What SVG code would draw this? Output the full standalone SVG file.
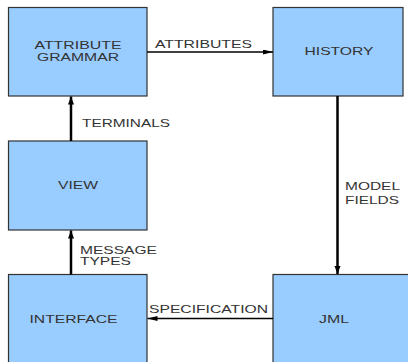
<svg xmlns="http://www.w3.org/2000/svg" width="408" height="362" viewBox="0 0 408 362">
  <style>
    .box { fill: #99ccff; stroke: #333333; stroke-width: 1.2; }
    .t { font-family: "Liberation Sans", Arial, sans-serif; font-size: 11px; fill: #333333; }
    .c { text-anchor: middle; }
    .edge { stroke: #000000; fill: none; }
    .v { stroke-width: 2.5; }
    .h { stroke-width: 1.6; }
  </style>
  <defs>
    <marker id="headV" markerUnits="userSpaceOnUse" markerWidth="10" markerHeight="10" refX="8" refY="3" orient="auto">
      <path d="M0,0 L8,3 L0,6 Z" fill="#000000"/>
    </marker>
    <marker id="headH" markerUnits="userSpaceOnUse" markerWidth="12" markerHeight="10" refX="10" refY="2.5" orient="auto">
      <path d="M0,0 L10,2.5 L0,5 Z" fill="#000000"/>
    </marker>
  </defs>

  <g id="attribute-grammar">
    <rect class="box" x="8.5" y="7.5" width="138.5" height="88.5"/>
    <text class="t c" x="78" y="49" textLength="87" lengthAdjust="spacingAndGlyphs">ATTRIBUTE</text>
    <text class="t c" x="78" y="61" textLength="82" lengthAdjust="spacingAndGlyphs">GRAMMAR</text>
  </g>

  <g id="history">
    <rect class="box" x="273" y="7.5" width="130" height="88.5"/>
    <text class="t c" x="339" y="55" textLength="69" lengthAdjust="spacingAndGlyphs">HISTORY</text>
  </g>

  <g id="view">
    <rect class="box" x="8.5" y="141" width="138.5" height="89"/>
    <text class="t c" x="78" y="189" textLength="40" lengthAdjust="spacingAndGlyphs">VIEW</text>
  </g>

  <g id="interface">
    <rect class="box" x="8.5" y="274.5" width="138.5" height="95"/>
    <text class="t c" x="73.5" y="323" textLength="88" lengthAdjust="spacingAndGlyphs">INTERFACE</text>
  </g>

  <g id="jml">
    <rect class="box" x="273" y="274.5" width="145" height="95"/>
    <text class="t c" x="334" y="323" textLength="30" lengthAdjust="spacingAndGlyphs">JML</text>
  </g>

  <g id="connectors">
    <line class="edge h" x1="147" y1="52" x2="273" y2="52" marker-end="url(#headH)"/>
    <text class="t" x="155" y="48" textLength="97" lengthAdjust="spacingAndGlyphs">ATTRIBUTES</text>

    <line class="edge v" x1="71" y1="141" x2="71" y2="96.5" marker-end="url(#headV)"/>
    <text class="t" x="82" y="127" textLength="88" lengthAdjust="spacingAndGlyphs">TERMINALS</text>

    <line class="edge v" x1="71" y1="274.5" x2="71" y2="230.5" marker-end="url(#headV)"/>
    <text class="t" x="80" y="254" textLength="77" lengthAdjust="spacingAndGlyphs">MESSAGE</text>
    <text class="t" x="80" y="265" textLength="51" lengthAdjust="spacingAndGlyphs">TYPES</text>

    <line class="edge v" x1="337.5" y1="96" x2="337.5" y2="274" marker-end="url(#headV)"/>
    <text class="t" x="345" y="190" textLength="55" lengthAdjust="spacingAndGlyphs">MODEL</text>
    <text class="t" x="345" y="204" textLength="54" lengthAdjust="spacingAndGlyphs">FIELDS</text>

    <line class="edge h" x1="273" y1="318.5" x2="147.5" y2="318.5" marker-end="url(#headH)"/>
    <text class="t" x="149" y="313" textLength="119" lengthAdjust="spacingAndGlyphs">SPECIFICATION</text>
  </g>
</svg>
